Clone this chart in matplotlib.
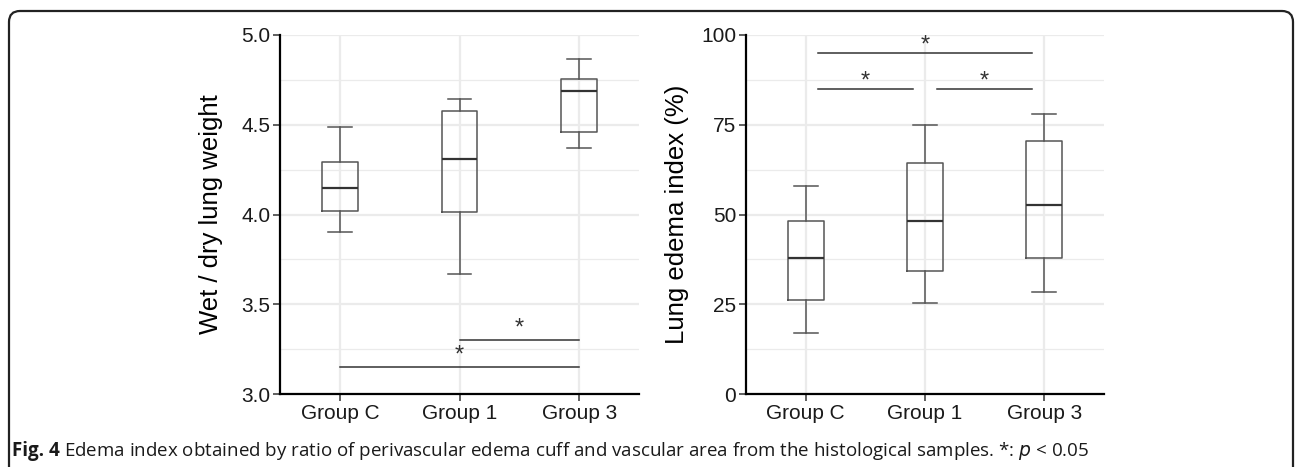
import matplotlib
matplotlib.use('Agg')
import matplotlib.pyplot as plt
import numpy as np
from matplotlib.patches import FancyBboxPatch
from matplotlib.transforms import IdentityTransform

plt.rcParams['font.family'] = ['Liberation Sans', 'DejaVu Sans']

groups = ['Group C', 'Group 1', 'Group 3']

# box stats: whisker low, Q1, median, Q3, whisker high
wd_low = [3.90, 3.67, 4.37]
wd_q1 = [4.02, 4.015, 4.46]
wd_med = [4.145, 4.31, 4.69]
wd_q3 = [4.29, 4.575, 4.755]
wd_high = [4.49, 4.645, 4.865]

le_low = [17.0, 25.3, 28.5]
le_q1 = [26.2, 34.3, 37.9]
le_med = [38.0, 48.2, 52.6]
le_q3 = [48.3, 64.3, 70.4]
le_high = [57.8, 74.9, 78.1]

# significance brackets: (from, to, height)
wd_sig = [(2, 3, 3.30), (1, 3, 3.15)]
le_sig = [(1.1, 2.9, 95), (1.1, 1.9, 85), (2.1, 2.9, 85)]

W, H = 1295, 467
fig = plt.figure(figsize=(W / 100, H / 100), dpi=100)

# frame with rounded top corners (open at the bottom)
frame = FancyBboxPatch((9, -60), 1284, H - 11 + 60,
                       boxstyle='round,pad=0,rounding_size=11',
                       transform=IdentityTransform(), fill=False,
                       edgecolor='#222222', linewidth=1.6, clip_on=False)
fig.patches.append(frame)

def draw(ax, low, q1, med, q3, high, ylim, yticks, ylabel, sig, star_off):
    stats = []
    for i in range(len(groups)):
        stats.append(dict(whislo=low[i], q1=q1[i], med=med[i], q3=q3[i],
                          whishi=high[i], fliers=[], label=groups[i]))
    ax.bxp(stats, positions=[1, 2, 3], widths=0.3, showfliers=False,
           boxprops=dict(color='#555555', linewidth=1.1),
           whiskerprops=dict(color='#555555', linewidth=1.1),
           capprops=dict(color='#555555', linewidth=1.1),
           medianprops=dict(color='#333333', linewidth=1.6),
           capwidths=0.2, zorder=3)
    ax.set_xlim(0.5, 3.5)
    ax.set_ylim(*ylim)
    ax.set_yticks(yticks)
    minor = [(yticks[k] + yticks[k + 1]) / 2 for k in range(len(yticks) - 1)]
    ax.set_yticks(minor, minor=True)
    ax.set_xticks([1, 2, 3])
    ax.set_xticklabels(groups)
    ax.grid(True, which='major', color='#EBEBEB', linewidth=1.6, zorder=0)
    ax.grid(True, which='minor', axis='y', color='#EBEBEB', linewidth=0.9, zorder=0)
    ax.set_axisbelow(True)
    for s in ['top', 'right']:
        ax.spines[s].set_visible(False)
    for s in ['left', 'bottom']:
        ax.spines[s].set_linewidth(1.6)
        ax.spines[s].set_color('black')
    ax.tick_params(axis='both', which='major', labelsize=15, length=5,
                   width=1.1, color='#333333', labelcolor='#1a1a1a', pad=2)
    ax.tick_params(axis='both', which='minor', length=0)
    ax.set_ylabel(ylabel, fontsize=18.5, color='black')
    ax.yaxis.set_label_coords(-0.16, 0.5)
    for x0, x1, h in sig:
        ax.plot([x0, x1], [h, h], color='#333333', linewidth=1.1, zorder=4)
        ax.text((x0 + x1) / 2, h + star_off, '*', ha='center', va='center',
                fontsize=17, color='#333333')

ax1 = fig.add_axes([280 / W, 1 - 394 / H, 359 / W, 359 / H])
draw(ax1, wd_low, wd_q1, wd_med, wd_q3, wd_high, (3.0, 5.0),
     [3.0, 3.5, 4.0, 4.5, 5.0], 'Wet / dry lung weight', wd_sig, 0.067)
ax1.set_yticklabels(['3.0', '3.5', '4.0', '4.5', '5.0'])

ax2 = fig.add_axes([746 / W, 1 - 394 / H, 358 / W, 359 / H])
draw(ax2, le_low, le_q1, le_med, le_q3, le_high, (0, 100),
     [0, 25, 50, 75, 100], 'Lung edema index (%)', le_sig, 1.95)

cap_y = 1 - 456 / H
t = fig.text(12 / W, cap_y, 'Fig. 4', fontsize=13.5, va='baseline',
             family='Open Sans', fontweight='bold', color='#1a1a1a')
fig.canvas.draw()
bb = t.get_window_extent()
fig.text((bb.x1 + 4) / W, cap_y,
         'Edema index obtained by ratio of perivascular edema cuff and vascular area '
         'from the histological samples. *: $\\it{p}$ < 0.05',
         fontsize=13.5, va='baseline', family='Open Sans', color='#1a1a1a')

fig.savefig('out.png', dpi=100)
